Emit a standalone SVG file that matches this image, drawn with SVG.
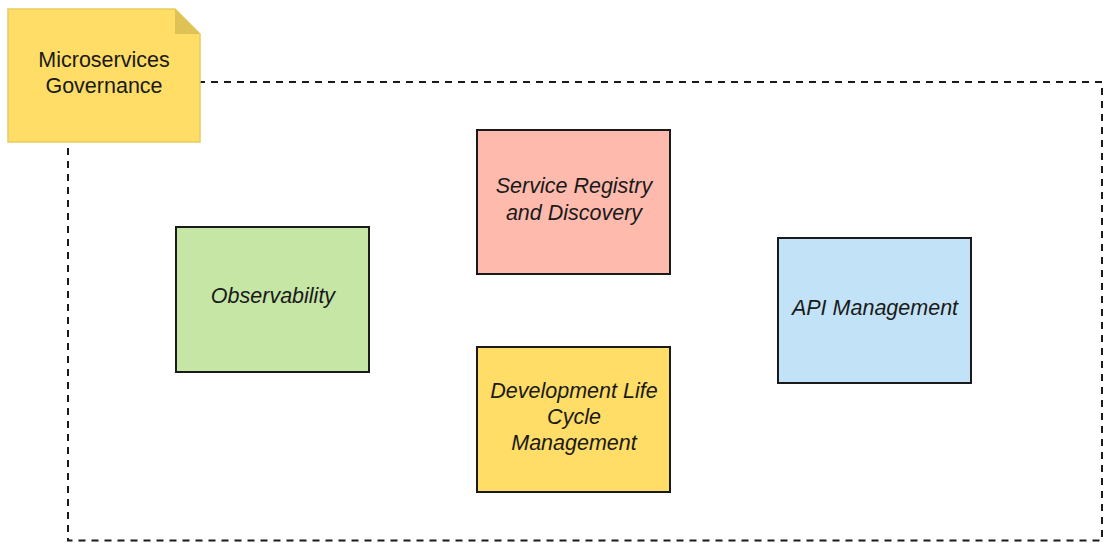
<svg xmlns="http://www.w3.org/2000/svg" width="1106" height="543" viewBox="0 0 1106 543">
<style>
.box{stroke:#1a1a1a;stroke-width:2}
.t{font-family:"Liberation Sans",Arial,sans-serif;font-size:21.5px;font-style:italic;fill:#1a1a1a;text-anchor:middle}
.n{font-family:"Liberation Sans",Arial,sans-serif;font-size:21.5px;fill:#1a1a1a;text-anchor:middle}
</style>
<rect width="1106" height="543" fill="#ffffff"/>
<g id="connectors"></g>
<g id="boundary">
<rect x="68" y="82" width="1034" height="458.5" fill="none" stroke="#1a1a1a" stroke-width="2" stroke-dasharray="7,6"/>
</g>
<g id="note">
<path d="M8,9 H175 L200,34 V142 H8 Z" fill="#ffdd66" stroke="#e8cc5e" stroke-width="1.5"/>
<path d="M175,9 L200,34 H175 Z" fill="#dfc255"/>
<text class="n" x="104" y="67">Microservices</text>
<text class="n" x="104" y="93">Governance</text>
</g>
<g id="service-registry">
<rect class="box" x="477" y="130" width="193" height="144" fill="#ffbaae"/>
<text class="t" x="574" y="193">Service Registry</text>
<text class="t" x="574" y="220">and Discovery</text>
</g>
<g id="observability">
<rect class="box" x="176" y="227" width="193" height="145" fill="#c6e6a6"/>
<text class="t" x="273" y="303">Observability</text>
</g>
<g id="api-management">
<rect class="box" x="778" y="238" width="193" height="145" fill="#c2e3f7"/>
<text class="t" x="875" y="315">API Management</text>
</g>
<g id="dev-lifecycle">
<rect class="box" x="477" y="347" width="193" height="145" fill="#ffdd66"/>
<text class="t" x="574" y="398">Development Life</text>
<text class="t" x="574" y="424">Cycle</text>
<text class="t" x="574" y="450">Management</text>
</g>
</svg>
